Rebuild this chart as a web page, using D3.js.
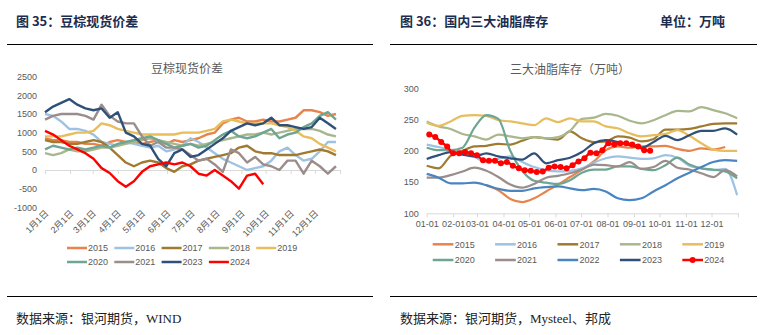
<!DOCTYPE html>
<html>
<head>
<meta charset="utf-8">
<script src="https://cdn.jsdelivr.net/npm/d3@7/dist/d3.min.js"></script>
<style>
body { margin: 0; background: #fff; }
svg text { font-family: "Liberation Sans", "Noto Sans CJK SC", sans-serif; }
</style>
</head>
<body>
<div id="chart-area"></div>
<script>
// ---- data: left chart, soybean oil - palm oil spot spread (every 10 days)
var leftDays = [0,10,20,30,40,50,60,70,80,90,100,110,120,130,140,150,160,170,180,190,200,210,220,230,240,250,260,270,280,290,300,310,320,330,340,350,360];
var spread2015 = [850,800,800,750,750,700,700,650,750,800,750,750,700,750,800,700,800,750,800,850,950,1000,1250,1350,1400,1300,1300,1350,1300,1300,1350,1400,1600,1600,1550,1450,1500];
var spread2016 = [1500,1450,1300,1100,1100,1050,950,750,700,650,750,700,650,600,650,500,550,650,850,750,600,450,300,200,100,0,50,100,250,500,600,400,250,300,500,750,750];
var spread2017 = [800,750,750,700,700,750,800,750,600,400,200,100,200,250,200,50,-50,100,150,250,300,350,400,450,600,650,500,450,450,400,400,400,450,500,550,500,400];
var spread2018 = [450,400,450,550,500,500,550,600,600,650,700,750,800,850,800,750,700,650,700,650,700,750,800,850,900,950,950,1000,950,1000,1050,1100,1100,1100,1050,950,900];
var spread2019 = [900,900,900,950,1000,1000,1050,1250,1200,1100,1050,1000,950,950,950,950,950,1000,1000,1000,1050,1100,1300,1350,1300,1250,1250,1250,1250,1200,1150,1050,900,850,700,600,500];
var spread2020 = [550,650,600,550,600,550,600,650,600,700,750,800,850,900,800,700,600,650,700,600,650,800,950,1050,900,850,900,1000,1100,850,950,1000,1150,1250,1450,1550,1350];
var spread2021 = [1350,1450,1500,1500,1500,1450,1350,1750,1450,1300,1250,1250,900,650,750,600,600,550,400,250,300,150,-50,550,450,200,350,150,100,0,250,250,-100,250,100,-100,100];
var spread2023 = [1550,1700,1800,1900,1750,1650,1600,1650,1400,1550,1000,900,700,650,300,100,450,550,350,400,550,700,850,1050,1150,1250,1200,1250,1400,1200,1200,1150,1100,1150,1400,1250,1100];
var spread2024 = [1050,950,800,650,550,450,300,50,-80,-300,-450,-300,-50,100,150,200,150,200,100,-100,-150,0,-150,-300,-500,-150,-100,-380];

// ---- data: right chart, three major oils inventory (10k t, every 2 weeks)
var rightDays = [0,14,28,42,56,70,84,98,112,126,140,154,168,182,196,210,224,238,252,266,280,294,308,322,336,350,364];
var inv2015 = [null,null,null,null,null,144,137,123,118,124,135,146,158,170,183,201,207,205,207,207,208,203,200,204,202,206,null];
var inv2016 = [210,206,201,196,190,182,187,191,182,174,169,167,168,172,181,188,191,189,187,188,193,189,176,172,169,171,129];
var inv2017 = [176,172,192,200,207,208,211,210,216,222,220,218,231,220,214,215,223,221,215,219,234,234,235,239,243,244,244];
var inv2018 = [247,239,235,227,223,218,226,223,220,222,220,222,232,251,253,259,256,248,244,249,257,264,263,270,265,260,252];
var inv2019 = [245,240,247,256,257,256,249,247,244,241,252,246,252,247,247,239,236,228,223,225,227,233,224,212,202,200,200];
var inv2020 = [205,201,201,205,237,257,251,200,168,152,149,147,153,165,170,170,175,175,171,169,177,189,178,172,170,167,156];
var inv2021 = [157,157,161,167,173,168,158,146,141,147,157,160,164,170,178,177,175,182,171,174,184,173,170,164,158,169,159];
var inv2022 = [163,157,148,148,149,145,139,136,136,140,142,143,140,137,139,135,124,121,124,135,145,156,165,174,182,185,184];
var inv2023 = [187,193,198,194,191,196,191,188,186,196,180,185,189,198,212,217,214,209,205,214,224,217,225,232,232,236,226];
// 2024 is weekly
var days2024 = [3,10,17,24,31,38,45,52,59,66,73,80,87,94,101,108,115,122,129,136,143,150,157,164,171,178,185,192,199,206,213,220,227,234,241,248,255,262];
var inv2024 = [226,222,214,207,196,196,198,196,193,185,184,184,180,182,176,172,169,168,166,167,173,175,174,172,177,183,188,197,196,201,212,210,212,212,210,207,201,200];

// ---- axis labels
var monthStarts = [0,31,59,90,120,151,181,212,243,273,304,334];
var leftMonthLabels = ["1月1日","2月1日","3月1日","4月1日","5月1日","6月1日","7月1日","8月1日","9月1日","10月1日","11月1日","12月1日"];
var rightMonthLabels = ["01-01","02-01","03-01","04-01","05-01","06-01","07-01","08-01","09-01","10-01","11-01","12-01"];
var leftYTicks = [-1000,-500,0,500,1000,1500,2000,2500];
var rightYTicks = [100,150,200,250,300];

var colors = {
  "2015": "#e8834c", "2016": "#9ec2e2", "2017": "#a07a30", "2018": "#a9b78d",
  "2019": "#e8bd5e", "2020": "#6fa692", "2021": "#9a8d8b", "2022": "#4a85c0",
  "2023": "#2f5178", "2024": "#ff0000"
};

var leftSeries = [
  {name: "2015", values: spread2015}, {name: "2016", values: spread2016},
  {name: "2017", values: spread2017}, {name: "2018", values: spread2018},
  {name: "2019", values: spread2019}, {name: "2020", values: spread2020},
  {name: "2021", values: spread2021}, {name: "2023", values: spread2023},
  {name: "2024", values: spread2024}
];
var rightSeries = [
  {name: "2015", days: rightDays, values: inv2015}, {name: "2016", days: rightDays, values: inv2016},
  {name: "2017", days: rightDays, values: inv2017}, {name: "2018", days: rightDays, values: inv2018},
  {name: "2019", days: rightDays, values: inv2019}, {name: "2020", days: rightDays, values: inv2020},
  {name: "2021", days: rightDays, values: inv2021}, {name: "2022", days: rightDays, values: inv2022},
  {name: "2023", days: rightDays, values: inv2023}, {name: "2024", days: days2024, values: inv2024}
];

var svg = d3.select("#chart-area").append("svg")
  .attr("width", 783)
  .attr("height", 335);

// ---- frame: headers, rules, sources
function header(x, txt) {
  svg.append("text").attr("x", x).attr("y", 26)
    .style("font-family", "'Noto Sans CJK SC', sans-serif")
    .style("font-weight", "bold").style("font-size", "13px")
    .attr("fill", "#1c2d4f").text(txt);
}
header(16, "图 35：豆棕现货价差");
header(400, "图 36：国内三大油脂库存");
header(660, "单位：万吨");

[[7, 373], [390, 757]].forEach(function(r) {
  svg.append("line").attr("x1", r[0]).attr("x2", r[1]).attr("y1", 44.5).attr("y2", 44.5)
    .attr("stroke", "#000").attr("stroke-width", 1);
  svg.append("line").attr("x1", r[0]).attr("x2", r[1]).attr("y1", 296.5).attr("y2", 296.5)
    .attr("stroke", "#000").attr("stroke-width", 1);
});

function source(x, txt) {
  svg.append("text").attr("x", x).attr("y", 323)
    .style("font-family", "'Liberation Serif', 'Noto Sans CJK SC', serif")
    .style("font-size", "13px").attr("fill", "#222").text(txt);
}
source(16, "数据来源：银河期货，WIND");
source(400, "数据来源：银河期货，Mysteel、邦成");

// ---- left chart
var xL = d3.scaleLinear().domain([0, 365]).range([45, 340]);
var yL = d3.scaleLinear().domain([-1000, 2500]).range([207.3, 76.7]);

svg.append("text").attr("x", 187).attr("y", 73).attr("text-anchor", "middle")
  .style("font-size", "12px").attr("fill", "#595959").text("豆棕现货价差");

var yAxisL = svg.append("g").attr("transform", "translate(45,0)")
  .call(d3.axisLeft(yL).tickValues(leftYTicks).tickSize(0).tickPadding(8)
    .tickFormat(function(d) { return String(d); }));
yAxisL.select(".domain").remove();
yAxisL.selectAll("text").style("font-size", "9px").attr("fill", "#595959");

var xAxisL = svg.append("g").attr("transform", "translate(0," + yL(0) + ")")
  .call(d3.axisBottom(xL).tickValues(monthStarts.concat([365])).tickSize(4).tickSizeOuter(0).tickFormat(""));
xAxisL.select(".domain").attr("stroke", "#d9d9d9");
xAxisL.selectAll(".tick line").attr("stroke", "#d9d9d9");

svg.append("g").selectAll("text").data(monthStarts).enter().append("text")
  .attr("text-anchor", "end")
  .attr("transform", function(d) { return "translate(" + (xL(d) + 4) + ",214) rotate(-45)"; })
  .style("font-size", "9px").attr("fill", "#595959")
  .text(function(d, i) { return leftMonthLabels[i]; });

var lineL = d3.line()
  .x(function(d) { return xL(d[0]); })
  .y(function(d) { return yL(d[1]); });

svg.append("g").selectAll("path").data(leftSeries).enter().append("path")
  .attr("fill", "none")
  .attr("stroke", function(d) { return colors[d.name]; })
  .attr("stroke-width", 2.4)
  .attr("stroke-linejoin", "round")
  .attr("d", function(d) {
    return lineL(d.values.map(function(v, i) { return [leftDays[i], v]; }));
  });

// left legend
var legL = svg.append("g").selectAll("g").data(leftSeries).enter().append("g")
  .attr("transform", function(d, i) {
    return "translate(" + (67 + (i % 5) * 47.3) + "," + (248 + Math.floor(i / 5) * 14) + ")";
  });
legL.append("line").attr("x1", 0).attr("x2", 20).attr("y1", 0).attr("y2", 0)
  .attr("stroke", function(d) { return colors[d.name]; }).attr("stroke-width", 2.5);
legL.append("text").attr("x", 21).attr("y", 3.3).style("font-size", "9px")
  .attr("fill", "#595959").text(function(d) { return d.name; });

// ---- right chart
var xR = d3.scaleLinear().domain([0, 365]).range([426.7, 738]);
var yR = d3.scaleLinear().domain([100, 300]).range([213.3, 88.3]);

svg.append("text").attr("x", 570).attr("y", 74).attr("text-anchor", "middle")
  .style("font-size", "12px").attr("fill", "#595959").text("三大油脂库存（万吨）");

var yAxisR = svg.append("g").attr("transform", "translate(426.7,0)")
  .call(d3.axisLeft(yR).tickValues(rightYTicks).tickSize(0).tickPadding(8));
yAxisR.select(".domain").remove();
yAxisR.selectAll("text").style("font-size", "9px").attr("fill", "#595959");

var xAxisR = svg.append("g").attr("transform", "translate(0," + yR(100) + ")")
  .call(d3.axisBottom(xR).tickValues(monthStarts.concat([365])).tickSize(4).tickSizeOuter(0).tickPadding(3)
    .tickFormat(function(d) { var i = monthStarts.indexOf(d); return i < 0 ? "" : rightMonthLabels[i]; }));
xAxisR.select(".domain").attr("stroke", "#d9d9d9");
xAxisR.selectAll(".tick line").attr("stroke", "#d9d9d9");
xAxisR.selectAll("text").style("font-size", "9px").attr("fill", "#595959");

var lineR = d3.line()
  .defined(function(d) { return d[1] != null; })
  .curve(d3.curveMonotoneX)
  .x(function(d) { return xR(d[0]); })
  .y(function(d) { return yR(d[1]); });

svg.append("g").selectAll("path").data(rightSeries).enter().append("path")
  .attr("fill", "none")
  .attr("stroke", function(d) { return colors[d.name]; })
  .attr("stroke-width", function(d) { return d.name == "2024" ? 2.4 : 2.2; })
  .attr("stroke-linejoin", "round")
  .attr("d", function(d) {
    return lineR(d.values.map(function(v, i) { return [d.days[i], v]; }));
  });

svg.append("g").selectAll("circle").data(inv2024).enter().append("circle")
  .attr("cx", function(d, i) { return xR(days2024[i]); })
  .attr("cy", function(d) { return yR(d); })
  .attr("r", 3)
  .attr("fill", colors["2024"]);

// right legend
var legR = svg.append("g").selectAll("g").data(rightSeries).enter().append("g")
  .attr("transform", function(d, i) {
    return "translate(" + (432.7 + (i % 5) * 62.4) + "," + (244.3 + Math.floor(i / 5) * 15.7) + ")";
  });
legR.append("line").attr("x1", 0).attr("x2", 20.7).attr("y1", 0).attr("y2", 0)
  .attr("stroke", function(d) { return colors[d.name]; }).attr("stroke-width", 2.5);
legR.filter(function(d) { return d.name == "2024"; }).append("circle")
  .attr("cx", 10.3).attr("cy", 0).attr("r", 3).attr("fill", colors["2024"]);
legR.append("text").attr("x", 22).attr("y", 3.3).style("font-size", "9px")
  .attr("fill", "#595959").text(function(d) { return d.name; });
</script>
</body>
</html>
